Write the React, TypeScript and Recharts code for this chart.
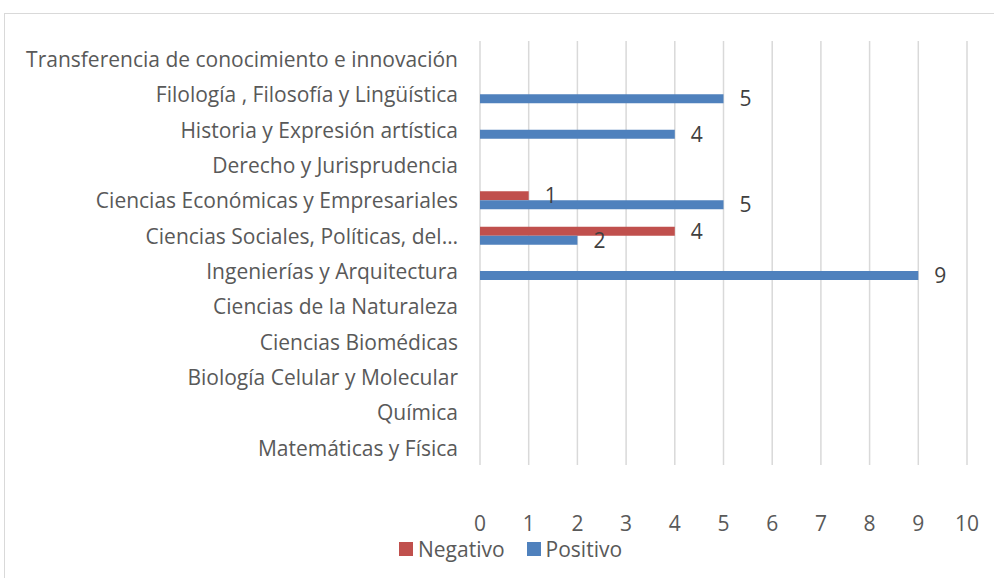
import { BarChart, Bar, XAxis, YAxis, CartesianGrid, LabelList } from 'recharts';

const categories = [
  'Transferencia de conocimiento e innovación',
  'Filología , Filosofía y Lingüística',
  'Historia y Expresión artística',
  'Derecho y Jurisprudencia',
  'Ciencias Económicas y Empresariales',
  'Ciencias Sociales, Políticas, del…',
  'Ingenierías y Arquitectura',
  'Ciencias de la Naturaleza',
  'Ciencias Biomédicas',
  'Biología Celular y Molecular',
  'Química',
  'Matemáticas y Física',
];
const negativo = [null, null, null, null, 1, 4, null, null, null, null, null, null];
const positivo = [null, 5, 4, null, 5, 2, 9, null, null, null, null, null];
const xTicks = [0, 1, 2, 3, 4, 5, 6, 7, 8, 9, 10];

const data = categories.map((name, i) => ({
  name,
  Negativo: negativo[i],
  Positivo: positivo[i],
}));

const FONT = '"Open Sans", "Noto Sans", sans-serif';
const TEXT = '#595959';
const SIZE = 21;

const LegendBox = () => (
  <div
    style={{
      position: 'absolute',
      left: 399,
      top: 534,
      display: 'flex',
      fontFamily: FONT,
      fontSize: SIZE,
      color: TEXT,
      lineHeight: '30px',
    }}
  >
    {[
      ['Negativo', '#C0504D'],
      ['Positivo', '#4F81BD'],
    ].map(([label, color]) => (
      <div key={label} style={{ display: 'flex', alignItems: 'center', marginRight: 22 }}>
        <span style={{ width: 14, height: 14, background: color, marginRight: 5 }} />
        <span>{label}</span>
      </div>
    ))}
  </div>
);

const fmt = (v: unknown) => (v === null || v === undefined ? '' : String(v));

export default function App() {
  return (
    <div style={{ position: 'absolute', left: 0, top: 0, width: 994, height: 578, overflow: 'hidden', background: '#fff' }}>
      <div
        style={{
          position: 'absolute',
          left: 4,
          top: 13,
          width: 1100,
          height: 700,
          border: '1px solid #d9d9d9',
        }}
      />
      <BarChart
        width={994}
        height={578}
        data={data}
        layout="vertical"
        margin={{ top: 41, right: 27, bottom: 43, left: 0 }}
        barSize={9}
        barGap={0}
        style={{ position: 'absolute', left: 0, top: 0 }}
      >
        <CartesianGrid horizontal={false} stroke="#d9d9d9" strokeWidth={1.5} />
        <XAxis
          type="number"
          domain={[0, 10]}
          ticks={xTicks}
          axisLine={false}
          tickLine={false}
          tickSize={0}
          tickMargin={51}
          height={70}
          tick={{ fill: TEXT, fontSize: SIZE, fontFamily: FONT }}
        />
        <YAxis
          type="category"
          dataKey="name"
          width={480}
          axisLine={false}
          tickLine={false}
          tickSize={0}
          tickMargin={22}
          interval={0}
          tick={{ fill: TEXT, fontSize: SIZE, fontFamily: FONT, dy: 1 }}
        />
        <Bar dataKey="Negativo" fill="#C0504D" isAnimationActive={false}>
          <LabelList
            dataKey="Negativo"
            position="right"
            offset={16}
            formatter={fmt}
            style={{ fill: '#404040', fontSize: SIZE, fontFamily: FONT }}
          />
        </Bar>
        <Bar dataKey="Positivo" fill="#4F81BD" isAnimationActive={false}>
          <LabelList
            dataKey="Positivo"
            position="right"
            offset={16}
            formatter={fmt}
            style={{ fill: '#404040', fontSize: SIZE, fontFamily: FONT }}
          />
        </Bar>
      </BarChart>
      <LegendBox />
    </div>
  );
}
